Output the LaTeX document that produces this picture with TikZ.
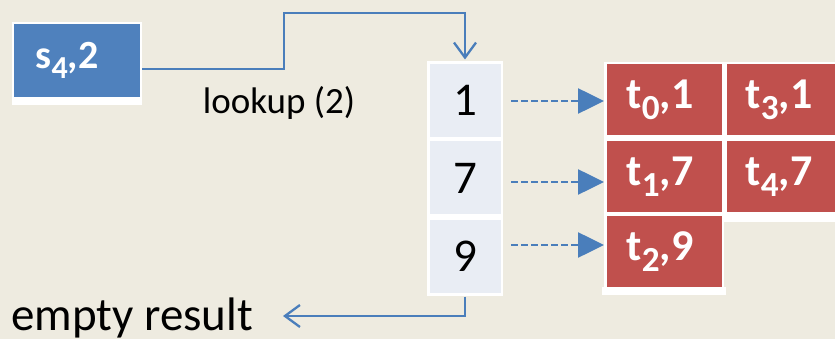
\documentclass[tikz,border=0pt]{standalone}
\usepackage{fontspec}
\setmainfont{Carlito}
\usetikzlibrary{calc,arrows.meta}
\definecolor{bg}{HTML}{EEEBE0}
\definecolor{sblue}{HTML}{4F81BD}
\definecolor{tred}{HTML}{C0504D}
\definecolor{cellfill}{HTML}{E9EDF4}
\definecolor{connc}{HTML}{4A7EBB}
\newcommand{\mysub}[1]{\raisebox{-0.26em}{\scalebox{0.8}{#1}}}
\begin{document}
\begin{tikzpicture}[x=1pt,y=-1pt,
  sbox/.style={rectangle, fill=sblue, draw=white, line width=2pt, minimum width=128pt, minimum height=75pt, inner sep=0pt, text=white, font=\fontsize{40}{40}\selectfont\bfseries},
  cellbox/.style={rectangle, fill=cellfill, draw=white, line width=2.5pt, minimum width=73.5pt, minimum height=75.5pt, inner sep=0pt, font=\fontsize{47}{47}\selectfont},
  tbox/.style={rectangle, fill=tred, draw=white, line width=2.5pt, minimum width=117.5pt, minimum height=73.5pt, inner sep=0pt, text=white, font=\fontsize{44}{44}\selectfont\bfseries},
  connline/.style={draw=connc, line width=2.3pt, -{Straight Barb[length=15pt,width=22pt]}},
  dasharr/.style={draw=connc, line width=2.6pt, dash pattern=on 7pt off 3pt, -{Triangle[length=26pt,width=25pt]}},
  plain/.style={inner sep=0pt}
]
\fill[bg] (0,0) rectangle (835,339);
\useasboundingbox (0,0) rectangle (835,339);
% white shadows
\fill[white] (12,97) rectangle (142,105);
\fill[white] (602,287) rectangle (726,295);
\fill[white] (722,212) rectangle (835,222);
% source
\node[sbox] (s) at (77,60.5) {\hspace*{-20pt}s\mysub{4},2};
% table
\node[cellbox] (c1) at (465,100.5) {1};
\node[cellbox] (c2) at (465,178) {7};
\node[cellbox] (c3) at (465,256.5) {9};
% tuples
\node[tbox] (t0) at (664,100) {\hspace*{-8pt}t\mysub{0},1};
\node[tbox] (t3) at (784,100) {\hspace*{-10pt}t\mysub{3},1};
\node[tbox] (t1) at (664,176.5) {\hspace*{-8pt}t\mysub{1},7};
\node[tbox] (t4) at (784,176.5) {\hspace*{-10pt}t\mysub{4},7};
\node[tbox] (t2) at (664,251.5) {\hspace*{-8pt}t\mysub{2},9};
% labels
\node[plain, font=\fontsize{37}{37}\selectfont] (lk) at (279,103) {lookup (2)};
\node[plain, anchor=base west, font=\fontsize{47}{47}\selectfont] (er) at (11,330) {empty result};
% connectors
\coordinate (top) at (284,13);
\coordinate (ertip) at (283,316);
\draw[connline, shorten >=2pt] ([yshift=-8.5pt]s.east) -| (top) -| (c1.north);
\draw[connline, shorten <=1pt] (c3.south) |- (ertip);
\draw[dasharr] ($(c1.east)+(8,0.5)$) -- ($(c1.east -| t0.west)+(0,0.5)$);
\draw[dasharr] ($(c2.east)+(8,4)$) -- ($(c2.east -| t1.west)+(0,4)$);
\draw[dasharr] ($(c3.east)+(8,-11.5)$) -- ($(c3.east -| t2.west)+(0,-11.5)$);
\end{tikzpicture}
\end{document}
